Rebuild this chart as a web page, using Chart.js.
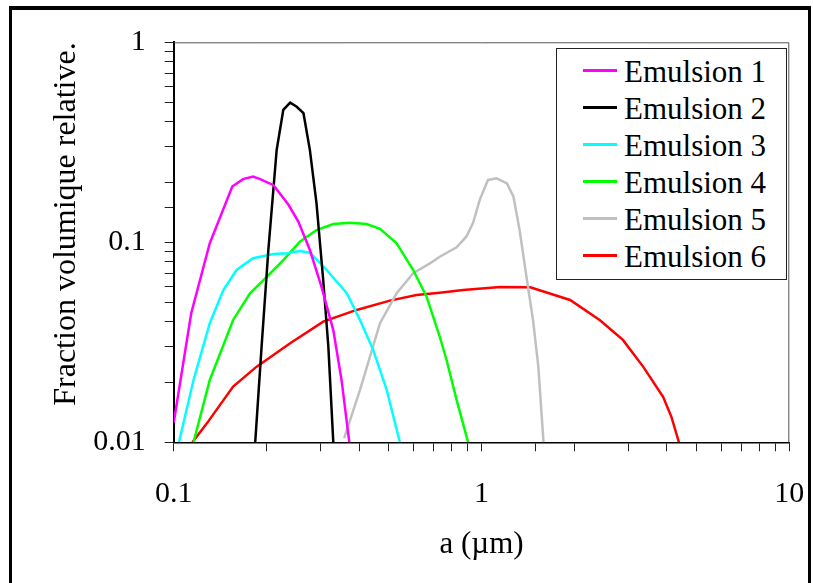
<!DOCTYPE html>
<html>
<head>
<meta charset="utf-8">
<script src="https://cdn.jsdelivr.net/npm/chart.js@4/dist/chart.umd.min.js"></script>
<style>
  html, body { margin: 0; padding: 0; background: #fff; }
  #wrap { position: relative; width: 813px; height: 583px; overflow: hidden; }
  #frame { position: absolute; left: 9px; top: 6px; width: 802px; height: 600px;
           border-top: 4px solid #000; border-left: 3px solid #000; border-right: 3px solid #000; box-sizing: border-box; }
  #legend { position: absolute; left: 556px; top: 48px; width: 231px; height: 232px; box-sizing: border-box;
            border: 1px solid #222; background: #fff; padding-top: 4px;
            font-family: 'Liberation Serif', 'Times New Roman', serif; font-size: 31px; color: #000; }
  .row { position: relative; height: 37.1px; line-height: 37px; white-space: nowrap; }
  .swatch { position: absolute; left: 26px; top: 16px; width: 34px; height: 3px; }
  .lbl { position: absolute; left: 67px; top: 0; }
  canvas { position: absolute; left: 0; top: 0; }
</style>
</head>
<body>
<div id="wrap">
  <canvas id="c" width="813" height="583"></canvas>
  <div id="frame"></div>
  <div id="legend"></div>
</div>
<script>
// ---- Data ----
const seriesNames = ['Emulsion 1', 'Emulsion 2', 'Emulsion 3', 'Emulsion 4', 'Emulsion 5', 'Emulsion 6'];
const seriesColors = ['#ff00ff', '#000000', '#00ffff', '#00ff00', '#c0c0c0', '#ff0000'];

const e1x = [0.1, 0.114, 0.131, 0.155, 0.168, 0.181, 0.191, 0.211, 0.236, 0.254, 0.277, 0.302, 0.330, 0.351, 0.372];
const e1y = [0.0125, 0.0442, 0.0989, 0.190, 0.207, 0.213, 0.207, 0.193, 0.154, 0.127, 0.0915, 0.060, 0.0364, 0.0205, 0.01];

const e2x = [0.184, 0.193, 0.203, 0.216, 0.227, 0.239, 0.251, 0.264, 0.277, 0.291, 0.306, 0.318, 0.330];
const e2y = [0.01, 0.0301, 0.0915, 0.289, 0.459, 0.499, 0.476, 0.442, 0.289, 0.157, 0.0648, 0.0301, 0.01];

const e3x = [0.104, 0.116, 0.131, 0.145, 0.160, 0.181, 0.211, 0.233, 0.257, 0.277, 0.314, 0.365, 0.403, 0.445, 0.492, 0.543];
const e3y = [0.01, 0.0205, 0.0394, 0.0577, 0.0727, 0.0832, 0.0874, 0.0881, 0.0904, 0.0887, 0.0727, 0.0556, 0.0409, 0.0289, 0.0183, 0.01];

const e4x = [0.116, 0.131, 0.156, 0.177, 0.201, 0.227, 0.257, 0.291, 0.330, 0.374, 0.423, 0.468, 0.530, 0.600, 0.663, 0.732, 0.770, 0.830, 0.905];
const e4y = [0.01, 0.0205, 0.0409, 0.0556, 0.0673, 0.0815, 0.1007, 0.1152, 0.1234, 0.1253, 0.1234, 0.1169, 0.0989, 0.0727, 0.0535, 0.0337, 0.0258, 0.0163, 0.01];

const e5x = [0.358, 0.403, 0.468, 0.530, 0.600, 0.680, 0.732, 0.830, 0.894, 0.939, 0.987, 1.05, 1.12, 1.21, 1.27, 1.33, 1.40, 1.47, 1.53, 1.59];
const e5y = [0.0105, 0.0183, 0.0394, 0.0556, 0.070, 0.0785, 0.0847, 0.0944, 0.107, 0.125, 0.163, 0.205, 0.209, 0.197, 0.169, 0.115, 0.0673, 0.0409, 0.0239, 0.01];

const e6x = [0.115, 0.128, 0.156, 0.186, 0.239, 0.306, 0.393, 0.504, 0.615, 0.732, 0.872, 1.15, 1.44, 1.94, 2.42, 2.88, 3.35, 3.89, 4.14, 4.38];
const e6y = [0.01, 0.0124, 0.0190, 0.0239, 0.0313, 0.0401, 0.0459, 0.0511, 0.0545, 0.056, 0.0577, 0.0598, 0.0596, 0.0515, 0.0409, 0.0325, 0.0239, 0.0169, 0.0134, 0.01];

const xTickLabels = ['0.1', '1', '10'];
const yTickLabels = ['0.01', '0.1', '1'];
const xTitle = 'a (\u00b5m)';
const yTitle = 'Fraction volumique relative.';

// ---- Build datasets ----
const xs = [e1x, e2x, e3x, e4x, e5x, e6x];
const ys = [e1y, e2y, e3y, e4y, e5y, e6y];
const datasets = seriesNames.map((name, i) => ({
  label: name,
  data: xs[i].map((x, j) => ({ x: x, y: ys[i][j] })),
  borderColor: seriesColors[i],
  backgroundColor: seriesColors[i],
  borderWidth: 2.5,
  showLine: true,
  pointRadius: 0,
  tension: 0,
  fill: false
}));

const FONT = "'Liberation Serif', 'Times New Roman', serif";

function labelFor(list) {
  return function (v) {
    const s = String(Number(v.toPrecision(6)));
    return list.indexOf(s) >= 0 ? s : '';
  };
}

const frameBox = {
  id: 'frameBox',
  afterDatasetsDraw(chart) {
    const { ctx, chartArea: a } = chart;
    ctx.save();
    ctx.strokeStyle = '#555';
    ctx.lineWidth = 1;
    ctx.beginPath();
    ctx.moveTo(a.left, a.top + 0.5);
    ctx.lineTo(a.right - 0.5, a.top + 0.5);
    ctx.lineTo(a.right - 0.5, a.bottom);
    ctx.stroke();
    ctx.restore();
  }
};

const chart = new Chart(document.getElementById('c'), {
  type: 'scatter',
  data: { datasets },
  plugins: [frameBox],
  options: {
    responsive: false,
    animation: false,
    devicePixelRatio: 1,
    layout: { padding: { left: 0, top: 42.3, right: 23.7, bottom: 0 } },
    plugins: { legend: { display: false }, tooltip: { enabled: false } },
    scales: {
      x: {
        type: 'logarithmic',
        position: 'bottom',
        min: 0.1, max: 10,
        grid: { drawOnChartArea: false, drawTicks: true, tickLength: 9, color: '#222', tickWidth: 1 },
        border: { display: true, color: '#000', width: 1.5 },
        ticks: { autoSkip: false, maxRotation: 0, minRotation: 0, padding: 25, color: '#000',
                 font: { family: FONT, size: 30 }, callback: labelFor(xTickLabels) },
        title: { display: true, text: xTitle, color: '#000', font: { family: FONT, size: 31 },
                 padding: { top: 0, bottom: 20 } },
        afterFit(s) { s.height = 583 - 442.3; s.paddingLeft = 0; s.paddingRight = 0; }
      },
      y: {
        type: 'logarithmic',
        position: 'left',
        min: 0.01, max: 1,
        grid: { drawOnChartArea: false, drawTicks: true, tickLength: 9, color: '#222', tickWidth: 1 },
        border: { display: true, color: '#000', width: 2 },
        ticks: { autoSkip: false, padding: 19, color: '#000',
                 font: { family: FONT, size: 30 }, callback: labelFor(yTickLabels) },
        title: { display: true, text: yTitle, color: '#000', align: 'end', font: { family: FONT, size: 32 },
                 padding: { top: 47, bottom: 0 } },
        afterFit(s) { s.width = 173.7; }
      }
    }
  }
});

// ---- HTML legend built from the datasets ----
const leg = document.getElementById('legend');
chart.data.datasets.forEach(ds => {
  const row = document.createElement('div');
  row.className = 'row';
  const sw = document.createElement('div');
  sw.className = 'swatch';
  sw.style.background = ds.borderColor;
  const t = document.createElement('span');
  t.className = 'lbl';
  t.textContent = ds.label;
  row.appendChild(sw);
  row.appendChild(t);
  leg.appendChild(row);
});
</script>
</body>
</html>
